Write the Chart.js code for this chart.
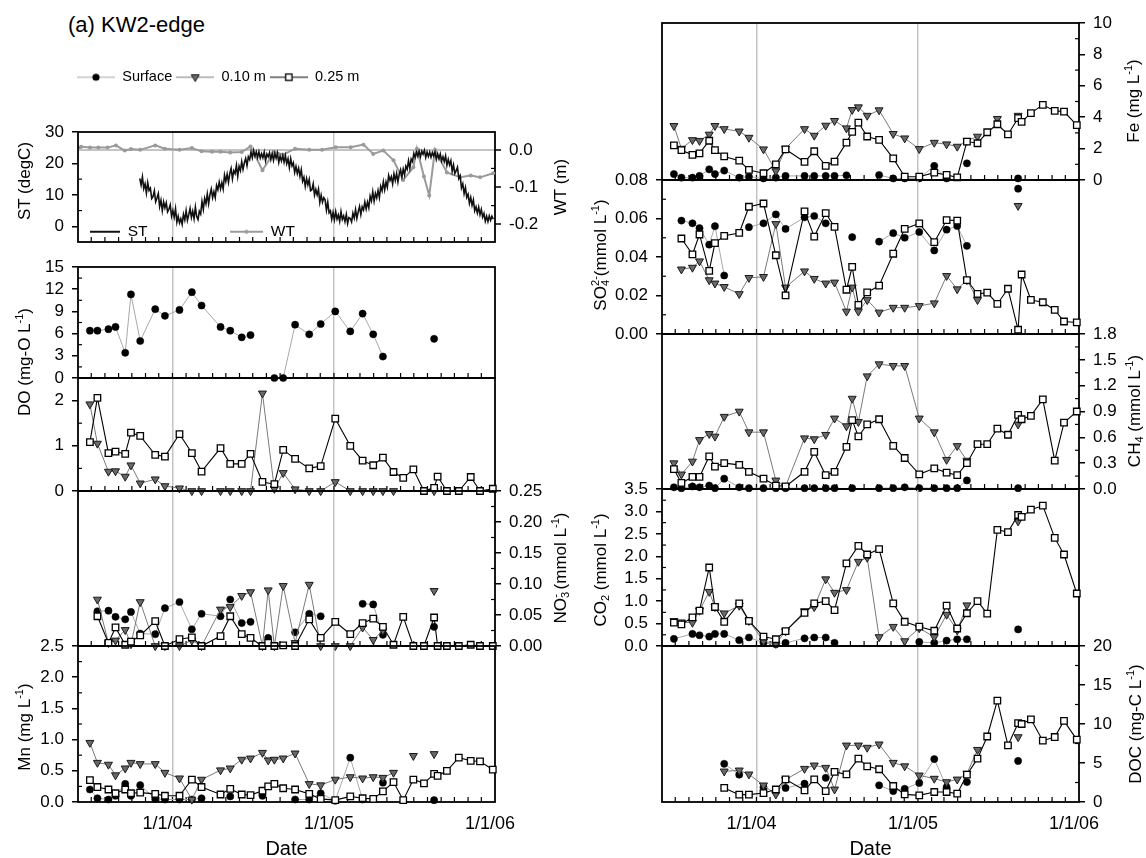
<!DOCTYPE html>
<html><head><meta charset="utf-8">
<script src="https://cdn.jsdelivr.net/npm/chart.js@4.4.1/dist/chart.umd.min.js"></script>
<style>
html,body{margin:0;padding:0;background:#fff;width:1146px;height:858px;overflow:hidden;position:relative;font-family:'Liberation Sans',Arial,sans-serif;color:#000;}
canvas{position:absolute;}
.t{position:absolute;white-space:nowrap;font-size:17px;line-height:1;transform:translate(-50%,-50%) rotate(-90deg);}
.t sup,.t sub{font-size:11px;line-height:0;}
.t sup{vertical-align:7px;}
.t sub{vertical-align:-3px;}
.t .b{margin-left:-6px;}
#ttl{position:absolute;left:68px;top:13px;font-size:22px;line-height:24px;}
</style></head><body>
<div id="ttl">(a) KW2-edge</div>
<script>
const _ = null, NA = undefined;

// ---------- sampling dates (shared by the chemistry series) ----------
const sampleDates = ['2003-06-28','2003-07-15','2003-08-09','2003-08-25','2003-09-16','2003-09-29','2003-10-20','2003-11-23','2003-12-15',
 '2004-01-17','2004-02-14','2004-03-07','2004-04-19','2004-05-11','2004-06-06','2004-06-26','2004-07-23','2004-08-05','2004-08-19','2004-09-08','2004-10-05','2004-11-06','2004-12-02',
 '2005-01-04','2005-02-07','2005-03-07','2005-03-31','2005-04-22','2005-05-16','2005-06-07','2005-06-30','2005-07-24','2005-08-16','2005-08-24','2005-09-14','2005-10-11','2005-11-07','2005-11-28','2005-12-27'];

// ---------- DO ----------
const doSurf = [6.4,6.4,6.6,6.9,3.4,11.3,5.0,9.3,8.4, 9.2,11.6,9.8,6.9,6.4,5.5,5.8,_, NA, 0,0,7.2,5.9,7.3, 9.0,6.3,8.7,5.9,2.9,_,_,_, _,5.3,_,_,_,_,_,_];
const do10 = [1.92,1.05,0.43,0.44,0.32,0.57,0.17,0.26,0.11, 0.06,0,0,0,0,0,0,2.16, NA, 0.05,0.40,0.04,0,0, 0.2,0,0,0,0,0,_,_, _,0,_,_,_,_,_,_];
const do25 = [1.08,2.06,0.84,0.87,0.82,1.29,1.22,0.80,0.76, 1.26,0.84,0.43,0.95,0.60,0.60,0.82,0.20, NA, 0.15,0.91,0.71,0.50,0.55, 1.60,1.00,0.67,0.57,0.74,0.42,0.29,0.48, 0,0.07,0.32,0,0,0.31,0,0.05];
// ---------- NO3 ----------
const no3Surf = [NA,0.056,0.057,0.047,0.043,0.055,0.02,0.019,0.061, 0.071,0.027,0.052,0.048,0.075,0.037,0.039,_, 0.013, _,_,0.022,0.052,0.048, _,_,0.068,0.067,0.018,_,_,_, _,0.031,_,_,_,_,_,_];
const no310 = [NA,0.075,0.005,0.009,0.026,0.003,0.071,0,0, 0,0.009,0,0.059,0.063,0.081,0.087,0, 0.09, 0,0.097,0.005,0.099,0, 0,0,0.03,0.01,0.025,_,_,_, _,0.089,_,_,_,_,_,_];
const no325 = [NA,0.048,0.005,0.03,0.002,0.007,0.017,0.04,0, 0.011,0.014,0,0.016,0.048,0.019,0.013,0, 0.005, 0,0.001,0,0.043,0.013, 0.039,0.019,0.037,0.044,0.031,0.002,0.047,0, 0,0.046,0,0,0,0.002,0,0];
// ---------- Mn ----------
const mnSurf = [0.2,0.06,0.04,0.1,0.29,0.1,0.27,0.05,0.04, 0.04,0.04,0.06,_,0.09,_,_,0.1, NA, _,_,0.04,0.04,0.14, 0.02,0.71,0.04,_,0.31,_,_,_, _,0.03,_,_,_,_,_,_];
const mn10 = [0.95,0.63,0.6,0.43,0.54,0.63,0.61,0.61,0.47, 0.38,0.04,0.36,0.51,0.54,0.68,0.7,0.79, 0.67, 0.68,0.7,0.78,0.29,0.27, 0.36,0.4,0.38,0.4,0.39,0.47,_,0.74, _,0.77,_,_,_,_,_,_];
const mn25 = [0.35,0.24,0.2,0.14,0.2,0.14,0.15,0.13,0.1, 0.1,0.36,0.24,0.12,0.21,0.12,0.11,0.18, 0.25, 0.29,0.22,0.2,0.13,0.05, 0.03,0.09,0.06,0.05,0.17,0.32,0.03,0.36, 0.3,0.45,0.42,0.5,0.71,0.66,0.65,0.52];
// ---------- Fe ----------
const feSurf = [0.38,0.15,0.15,0.26,0.68,0.38,0.6,0.15,0.21, 0.1,0.15,0.26,0.26,0.26,0.26,0.26,0.3, NA, _,_,0.32,0.1,0.1, 0.1,0.9,0.1,_,1.06,_,_,_, _,0.1,_,_,_,_,_,_];
const fe10 = [3.45,2.0,2.55,2.5,2.9,3.45,3.25,3.1,2.7, 1.96,0.57,2.0,3.25,2.83,3.47,3.77,3.3, 4.47, 4.64,4.1,4.45,2.94,2.66, 1.98,2.38,2.28,2.13,2.5,2.77,_,3.9, _,4.1,_,_,_,_,_,_];
const fe25 = [2.2,1.9,1.6,1.7,2.5,1.9,1.5,1.23,0.64, 0.43,1.0,1.95,1.15,1.83,0.9,1.17,2.38, 3.06, 3.66,2.77,2.55,1.38,0.21, 0.21,0.47,0.32,0.17,2.45,2.34,3.04,3.55, 2.9,3.94,3.7,4.26,4.79,4.4,4.36,3.5];
// ---------- SO4 ----------
const so4Surf = [NA,0.0589,0.0575,0.055,0.0464,0.056,0.0304,_,0.0555, 0.0575,0.0621,0.0546,0.0606,0.0613,0.0575,_,_, 0.0503, _,_,0.048,0.0524,0.05, 0.053,0.0434,0.0542,0.0561,0.0458,_,_,_, _,0.0755,_,_,_,_,_,_];
const so410 = [NA,0.0336,0.0345,0.0378,0.028,0.0263,0.0245,0.0208,0.0292, 0.0297,0.0572,0.0242,0.0326,0.0287,0.0263,0.0268,0.0117, 0.0242, 0.0117,0.0177,0.0112,0.0137,0.0137, 0.0146,0.016,0.0302,0.0233,0.028,0.0177,_,_, _,0.0666,_,_,_,_,_,_];
const so425 = [NA,0.0496,0.0414,0.0517,0.0328,0.0472,0.051,0.0525,0.0661, 0.0678,0.0409,0.0201,0.0637,0.0506,0.0628,0.0556,0.023, 0.0349, 0.0151,0.0216,0.0251,0.0417,0.0546, 0.0575,0.0477,0.0592,0.0589,0.028,0.0208,0.0215,0.0156, 0.0235,0.0022,0.0309,0.0177,0.0165,0.0125,0.0065,0.006];
// ---------- CH4 ----------
const ch4Surf = [0.02,0.01,0.03,0.02,0.04,0.01,0.12,0.02,0.01, 0.01,0.01,0.01,0.01,0.01,0.01,0.01,_, 0.01, _,_,0.01,0.01,0.02, 0.01,0.01,0.01,0.01,0.1,_,_,_, _,0.01,_,_,_,_,_,_];
const ch410 = [0.3,0.17,0.32,0.57,0.64,0.61,0.84,0.9,0.66, 0.66,0.1,0.03,0.59,0.58,0.63,0.82,0.73, 1.05, 0.78,1.31,1.45,1.43,1.43, 0.82,0.66,0.34,0.5,0.33,_,_,_, _,0.75,_,_,_,_,_,_];
const ch425 = [0.23,0.07,0.14,0.14,0.38,0.26,0.3,0.28,0.2, 0.12,0.04,0.03,0.2,0.43,0.16,0.2,0.49, 0.8, 0.61,0.75,0.81,0.5,0.36, 0.17,0.24,0.19,0.16,0.3,0.52,0.52,0.7, 0.63,0.86,0.81,0.85,1.04,0.33,0.77,0.9];
// ---------- CO2 ----------
const co2Surf = [0.16,NA,0.27,0.24,0.21,0.27,0.27,0.13,0.19, 0.07,0.04,0.07,0.17,0.19,0.19,0.07,_, NA, _,_,_,_,_, 0.09,0.07,0.12,0.15,0.15,_,_,_, _,0.37,_,_,_,_,_,_];
const co210 = [0.56,0.53,0.52,0.79,1.21,0.87,0.73,0.9,0.56, 0.11,0.05,0.33,0.78,0.87,1.49,1.19,1.25, NA, 1.88,1.97,0.2,0.43,0.11, 0.4,0.2,0.7,0.35,0.91,_,_,_, _,2.78,_,_,_,_,_,_];
const co225 = [0.52,0.48,0.64,0.79,1.75,0.87,0.54,0.95,0.56, 0.21,0.15,0.33,0.74,0.95,1.0,0.8,1.84, NA, 2.23,2.04,2.16,0.95,0.54, 0.43,0.34,0.9,0.39,0.73,1.0,0.72,2.59, 2.54,2.92,2.88,3.04,3.13,2.41,2.04,1.17];
// ---------- DOC ----------
const docSurf = [NA,NA,NA,NA,NA,NA,4.9,3.5,_, 1.9,_,1.8,2.35,_,3.1,_,_, NA, _,_,2.14,1.4,1.7, 2.44,5.5,1.9,_,2.56,_,_,_, _,5.26,_,_,_,_,_,_];
const doc10 = [NA,NA,NA,NA,NA,NA,3.93,4.06,3.55, 2.14,0.98,2.86,4.27,4.7,4.4,1.62,7.26, NA, 7.26,6.97,7.4,5.04,4.6, 3.42,3.0,2.56,2.9,3.63,6.7,_,_, _,8.33,_,_,_,_,_,_];
const doc25 = [NA,NA,NA,NA,NA,NA,1.8,0.94,0.94, 1.15,1.6,2.9,1.5,2.9,1.4,3.85,3.55, NA, 5.56,4.57,4.2,2.05,0.98, 0.85,1.28,1.28,1.07,3.5,5.56,8.4,13.0, 7.26,10.1,10.0,10.6,7.86,8.33,10.4,8.0];

// ---------- water table ----------
const wtDates = ['2003-06-08','2003-06-28','2003-07-17','2003-08-07','2003-08-26','2003-09-15','2003-09-29','2003-10-20','2003-11-23','2003-12-15',
 '2004-01-17','2004-02-14','2004-03-07','2004-03-31','2004-04-19','2004-05-11','2004-06-06','2004-06-26','2004-07-23','2004-08-19','2004-09-08','2004-10-05','2004-11-06','2004-12-05',
 '2005-01-05','2005-02-08','2005-03-09','2005-03-31','2005-04-23','2005-05-16','2005-06-07','2005-06-30','2005-07-08','2005-07-24','2005-08-05','2005-08-18','2005-09-14','2005-10-14','2005-11-07','2005-11-28','2005-12-28'];
const wtVals = [0.008,0.006,0.006,0.006,0.012,-0.002,0.002,0.0,0.012,0.003,
 0.0,0.005,-0.004,-0.005,-0.005,-0.007,-0.006,0.009,-0.055,-0.005,-0.013,0.003,0.0,0.0,
 0.007,0.007,0.014,-0.011,-0.002,-0.028,-0.081,-0.047,0.003,-0.072,-0.123,0.0,-0.061,-0.074,-0.069,-0.074,-0.063];

// ---------- soil temperature (one reading every 3 days from stStart) ----------
const stStart = '2003-10-19', stStepDays = 3;
const stVals = [
 15.2,13.1,15.7,12.0,13.5,10.6,13.9,11.4,12.1,8.8,
 9.4,11.3,7.8,9.0,10.4,6.3,8.3,5.0,7.8,5.9,
 7.5,4.6,5.4,6.8,3.2,5.0,2.9,5.6,1.3,3.2,
 1.1,2.4,0.6,3.8,2.0,5.0,1.9,3.7,5.7,2.8,
 4.8,2.4,6.1,3.1,2.1,4.8,3.9,7.9,5.4,8.9,
 7.2,10.3,7.2,10.1,11.9,9.1,11.0,9.1,13.0,11.6,
 14.1,11.9,13.9,11.9,16.3,14.3,16.6,14.0,16.8,18.4,
 15.1,17.7,16.8,19.4,15.9,19.1,17.7,20.6,18.1,20.2,
 21.6,19.3,22.1,21.2,23.6,21.8,24.1,22.3,23.7,21.9,
 23.7,21.7,23.1,21.8,23.6,20.9,23.0,22.1,23.4,21.2,
 23.1,21.0,23.2,21.7,23.3,20.3,22.3,20.8,22.5,20.4,
 22.5,19.9,21.5,18.7,21.5,19.2,20.2,17.1,19.0,16.8,
 18.5,15.9,18.0,14.3,15.6,12.7,15.2,13.2,14.9,11.3,
 11.6,13.5,9.9,11.7,10.0,11.8,7.6,9.9,7.7,9.1,
 8.4,5.1,7.7,4.3,4.9,2.2,4.4,2.1,4.7,2.3,
 3.6,1.6,4.7,2.2,3.3,1.5,3.8,0.9,2.8,2.5,
 1.4,4.2,2.6,5.3,2.5,4.6,6.3,3.7,6.2,5.2,
 7.7,5.5,7.7,5.9,9.6,8.1,11.0,8.0,10.5,9.0,
 11.4,9.1,12.7,11.3,14.2,11.6,14.1,12.4,16.2,14.6,
 15.8,13.5,16.7,14.6,16.8,14.1,16.6,18.0,15.7,18.2,
 16.4,19.1,18.1,20.9,18.5,21.4,20.6,23.2,21.9,23.6,
 22.3,23.9,22.1,23.9,22.9,24.2,21.9,23.6,22.2,23.6,
 22.0,23.5,22.4,23.6,21.3,23.0,21.5,23.0,20.8,22.1,
 20.6,22.4,19.4,21.3,19.5,20.9,17.5,19.5,16.8,17.7,
 18.8,15.2,16.1,12.2,13.5,10.4,12.3,9.2,10.2,7.3,
 9.2,6.7,8.4,4.9,6.2,4.2,6.1,3.7,5.4,2.9,
 4.1,1.6,3.2,1.5,3.3,1.9,3.2,2.3];

// ---------- axes ----------
const xRange = ['2003-06-01','2006-01-01'];
const xTickDates = ['2004-01-01','2005-01-01','2006-01-01'];
const xTickLabels = ['1/1/04','1/1/05','1/1/06'];
const stTicks = [0,10,20,30], wtTicks = [-0.2,-0.1,0];
const doTicks = [0,3,6,9,12,15], doDeepTicks = [0,1,2];
const no3Ticks = [0,0.05,0.10,0.15,0.20,0.25], mnTicks = [0,0.5,1.0,1.5,2.0,2.5];
const feTicks = [0,2,4,6,8,10], so4Ticks = [0,0.02,0.04,0.06,0.08];
const ch4Ticks = [0,0.3,0.6,0.9,1.2,1.5,1.8], co2Ticks = [0,0.5,1.0,1.5,2.0,2.5,3.0,3.5], docTicks = [0,5,10,15,20];
const legendNames = ['Surface','0.10 m','0.25 m'];

// ---------- helpers ----------
const toDay = s => Date.UTC(+s.slice(0,4), +s.slice(5,7)-1, +s.slice(8,10)) / 864e5;
const xMin = toDay(xRange[0]), xMax = toDay(xRange[1]);
const sDays = sampleDates.map(toDay);
const xTickDays = xTickDates.map(toDay);
const monthDays = [];
for (let y = 2003; y <= 2005; y++) for (let m = 0; m < 12; m++) { const d = Date.UTC(y, m, 1) / 864e5; if (d > xMin && d < xMax) monthDays.push(d); }

Chart.defaults.font.family = "'Liberation Sans', Arial, sans-serif";
Chart.defaults.font.size = 17;
Chart.defaults.color = '#000';

const STY = {
  s: {borderColor:'#a8a8a8', borderWidth:1, pointStyle:'circle', pointRadius:3.6, pointBackgroundColor:'#000', pointBorderColor:'#000', pointBorderWidth:0.5},
  t: {borderColor:'#7a7a7a', borderWidth:1, pointStyle:'triangle', pointRotation:180, pointRadius:4.6, pointBackgroundColor:'#696969', pointBorderColor:'#1a1a1a', pointBorderWidth:1},
  q: {borderColor:'#000', borderWidth:1.1, pointStyle:'rect', pointRadius:4.6, pointBackgroundColor:'#fff', pointBorderColor:'#000', pointBorderWidth:1.3}
};
function ser(arr, kind, label, axis) {
  const data = [];
  arr.forEach((v, i) => { if (v !== undefined) data.push({x: sDays[i], y: v}); });
  return Object.assign({label, data, yAxisID: axis || 'y', spanGaps:false, tension:0, clip:false, pointHoverRadius: STY[kind].pointRadius}, STY[kind]);
}
function trio(s, t, q, axis) { return [ser(q,'q',legendNames[2],axis), ser(t,'t',legendNames[1],axis), ser(s,'s',legendNames[0],axis)]; }

const M = 90, T = 40;
function yAxis(a) {
  return {
    type:'linear', position:a.pos, min:a.min, max:a.max,
    afterBuildTicks: s => { s.ticks = a.ticks.map(v => ({value: v})); },
    afterFit: s => { s.width = M; },
    ticks: {callback: v => Number(v).toFixed(a.dec), padding:8, font:{size:17}, color:'#000', autoSkip:false},
    grid: {
      drawOnChartArea: !!a.zeroLine,
      color: a.zeroLine ? (c => (c.tick && Math.abs(c.tick.value) < 1e-9) ? '#c4c4c4' : 'rgba(0,0,0,0)') : '#000',
      lineWidth: a.zeroLine ? 2 : 1.5, tickColor:'#000', tickLength:6, tickWidth:1.5
    },
    border: {display:false}
  };
}
function xAxis(bottom, B) {
  return {
    type:'linear', min:xMin, max:xMax,
    afterBuildTicks: s => { s.ticks = xTickDays.map(v => ({value: v})); },
    afterFit: s => { s.height = B; },
    ticks: {display: bottom, callback: (v, i) => xTickLabels[i], font:{size:18}, padding:11, maxRotation:0, autoSkip:false, labelOffset:-5, color:'#000'},
    grid: {drawTicks:false, color: c => (c.tick && c.tick.value < xMax - 1) ? '#c4c4c4' : 'rgba(0,0,0,0)', lineWidth:1.5},
    border: {display:false},
    title: {display: bottom, text:'Date', font:{size:20}, padding:{top:0, bottom:3}, color:'#000'}
  };
}
const deco = {
  id:'deco',
  beforeDatasetsDraw(chart) {
    const {ctx, chartArea:a, scales} = chart;
    ctx.save();
    ctx.strokeStyle = '#000'; ctx.lineWidth = 1.2;
    const xs = scales.x;
    monthDays.forEach(d => {
      const px = xs.getPixelForValue(d);
      ctx.beginPath(); ctx.moveTo(px, a.bottom); ctx.lineTo(px, a.bottom - 5); ctx.stroke();
    });
    Object.values(scales).forEach(s => {
      if (s.axis !== 'y') return;
      const tv = s.ticks.map(k => k.value);
      const x0 = s.position === 'left' ? a.left : a.right, dir = s.position === 'left' ? 1 : -1;
      for (let i = 0; i + 1 < tv.length; i++) {
        const py = s.getPixelForValue((tv[i] + tv[i+1]) / 2);
        ctx.beginPath(); ctx.moveTo(x0, py); ctx.lineTo(x0 + dir * 4, py); ctx.stroke();
      }
    });
    ctx.lineWidth = 1.8;
    ctx.strokeRect(a.left, a.top, a.right - a.left, a.bottom - a.top);
    ctx.restore();
  }
};
function panel(p) {
  const B = p.bottom ? 62 : 40;
  const cv = document.createElement('canvas');
  const W = p.w + 2 * M, H = p.h + T + B;
  cv.width = W; cv.height = H;
  cv.style.left = (p.x - M) + 'px'; cv.style.top = (p.y - T) + 'px';
  cv.style.width = W + 'px'; cv.style.height = H + 'px';
  document.body.appendChild(cv);
  const scales = {x: xAxis(!!p.bottom, B)};
  p.axes.forEach(a => { scales[a.id] = yAxis(a); });
  const hasL = p.axes.some(a => a.pos === 'left'), hasR = p.axes.some(a => a.pos === 'right');
  new Chart(cv, {type:'line', data:{datasets:p.datasets}, plugins:[deco], options:{
    responsive:false, animation:false, devicePixelRatio:1, events:[],
    layout:{padding:{left: hasL ? 0 : M, right: hasR ? 0 : M, top: T, bottom: 0}},
    scales, plugins:{legend:{display:false}, tooltip:{enabled:false}}
  }});
}

const LX = 78, RX = 662, PW = 417;
// ST / WT
panel({x:LX, y:132, w:PW, h:110,
  axes:[{id:'y', pos:'left', min:-5, max:30, ticks:stTicks, dec:0}, {id:'y2', pos:'right', min:-0.248, max:0.048, ticks:wtTicks, dec:1, zeroLine:true}],
  datasets:[
    {label:'ST', data: stVals.map((v, i) => ({x: toDay(stStart) + i * stStepDays, y: v})), yAxisID:'y', borderColor:'#111', borderWidth:1.6, pointRadius:0, tension:0, clip:false},
    {label:'WT', data: wtVals.map((v, i) => ({x: toDay(wtDates[i]), y: v})), yAxisID:'y2', borderColor:'#9a9a9a', borderWidth:2, pointRadius:2, pointBackgroundColor:'#9a9a9a', pointBorderWidth:0, tension:0, clip:false}
  ]});
panel({x:LX, y:267, w:PW, h:111, axes:[{id:'y', pos:'left', min:0, max:15, ticks:doTicks, dec:0}], datasets:[ser(doSurf,'s','Surface')]});
panel({x:LX, y:378, w:PW, h:113, axes:[{id:'y', pos:'left', min:0, max:2.5, ticks:doDeepTicks, dec:0}], datasets:[ser(do25,'q','0.25 m'), ser(do10,'t','0.10 m')]});
panel({x:LX, y:491, w:PW, h:155, axes:[{id:'y', pos:'right', min:0, max:0.25, ticks:no3Ticks, dec:2}], datasets:trio(no3Surf, no310, no325)});
panel({x:LX, y:646, w:PW, h:156, bottom:true, axes:[{id:'y', pos:'left', min:0, max:2.5, ticks:mnTicks, dec:1}], datasets:trio(mnSurf, mn10, mn25)});
panel({x:RX, y:23, w:PW, h:157, axes:[{id:'y', pos:'right', min:0, max:10, ticks:feTicks, dec:0}], datasets:trio(feSurf, fe10, fe25)});
panel({x:RX, y:180, w:PW, h:154, axes:[{id:'y', pos:'left', min:0, max:0.08, ticks:so4Ticks, dec:2}], datasets:trio(so4Surf, so410, so425)});
panel({x:RX, y:334, w:PW, h:155, axes:[{id:'y', pos:'right', min:0, max:1.8, ticks:ch4Ticks, dec:1}], datasets:trio(ch4Surf, ch410, ch425)});
panel({x:RX, y:489, w:PW, h:157, axes:[{id:'y', pos:'left', min:0, max:3.5, ticks:co2Ticks, dec:1}], datasets:trio(co2Surf, co210, co225)});
panel({x:RX, y:646, w:PW, h:156, bottom:true, axes:[{id:'y', pos:'right', min:0, max:20, ticks:docTicks, dec:0}], datasets:trio(docSurf, doc10, doc25)});

// ---------- legends (Chart.js legend with line+marker icons) ----------
function mkIcon(w, h, lineColor, lineW, marker) {
  const c = document.createElement('canvas'); c.width = w; c.height = h;
  const g = c.getContext('2d'); const cx = w / 2, cy = h / 2;
  g.strokeStyle = lineColor; g.lineWidth = lineW;
  g.beginPath(); g.moveTo(0, cy); g.lineTo(w, cy); g.stroke();
  if (marker === 'circle') { g.fillStyle = '#000'; g.beginPath(); g.arc(cx, cy, 3.6, 0, Math.PI * 2); g.fill(); }
  if (marker === 'tri') { g.fillStyle = '#696969'; g.strokeStyle = '#1a1a1a'; g.lineWidth = 1; g.beginPath(); g.moveTo(cx - 4, cy - 2.5); g.lineTo(cx + 4, cy - 2.5); g.lineTo(cx, cy + 4.3); g.closePath(); g.fill(); g.stroke(); }
  if (marker === 'sq') { g.fillStyle = '#fff'; g.strokeStyle = '#000'; g.lineWidth = 1.3; g.fillRect(cx - 3.2, cy - 3.2, 6.4, 6.4); g.strokeRect(cx - 3.2, cy - 3.2, 6.4, 6.4); }
  if (marker === 'dot') { g.fillStyle = lineColor; g.beginPath(); g.arc(cx, cy, 2, 0, Math.PI * 2); g.fill(); }
  return c;
}
function legendChart(left, top, width, items, fontSize, boxW, pad) {
  const cv = document.createElement('canvas');
  const H = Math.round(fontSize * 2 + pad * 2 + 8);
  cv.width = width; cv.height = H;
  cv.style.left = left + 'px'; cv.style.top = top + 'px'; cv.style.width = width + 'px'; cv.style.height = H + 'px';
  document.body.appendChild(cv);
  new Chart(cv, {type:'line', data:{datasets: items.map(it => ({label: it.text, data: []}))}, options:{
    responsive:false, animation:false, devicePixelRatio:1, events:[], layout:{padding:0},
    scales:{x:{display:false}, y:{display:false}},
    plugins:{tooltip:{enabled:false}, legend:{display:true, position:'top', align:'start',
      labels:{usePointStyle:true, pointStyleWidth:boxW, boxHeight:fontSize, padding:pad, font:{size:fontSize}, color:'#000',
        generateLabels: () => items.map((it, i) => ({text: it.text, pointStyle: it.icon, fillStyle:'#000', strokeStyle:'#000', lineWidth:0, hidden:false, datasetIndex:i, fontColor:'#000'}))}}}
  }});
}
legendChart(73, 66, 420, [
  {text: legendNames[0], icon: mkIcon(38, 12, '#a8a8a8', 1.2, 'circle')},
  {text: legendNames[1], icon: mkIcon(38, 12, '#7a7a7a', 1.2, 'tri')},
  {text: legendNames[2], icon: mkIcon(38, 12, '#000', 1.2, 'sq')}
], 14.5, 38, 4);
legendChart(90, 224, 90, [{text:'ST', icon: mkIcon(30, 10, '#111', 2, null)}], 15.5, 30, 0);
legendChart(230, 224, 90, [{text:'WT', icon: mkIcon(33, 10, '#9a9a9a', 2, 'dot')}], 15.5, 33, 0);

// ---------- axis titles ----------
const axisTitles = [
  {x:24, y:181, html:'ST (degC)'},
  {x:560, y:187, html:'WT (m)'},
  {x:24, y:362, html:'DO (mg-O L<sup>-1</sup>)'},
  {x:560, y:568, html:'NO<sub>3</sub><sup class="b">-</sup> (mmol L<sup>-1</sup>)'},
  {x:24, y:727, html:'Mn (mg L<sup>-1</sup>)'},
  {x:1133, y:101, html:'Fe (mg L<sup>-1</sup>)'},
  {x:600, y:255, html:'SO<sub>4</sub><sup class="b">2-</sup>(mmol L<sup>-1</sup>)'},
  {x:1134, y:411, html:'CH<sub>4</sub> (mmol L<sup>-1</sup>)'},
  {x:600, y:570, html:'CO<sub>2</sub> (mmol L<sup>-1</sup>)'},
  {x:1135, y:724, html:'DOC (mg-C L<sup>-1</sup>)'}
];
axisTitles.forEach(t => {
  const d = document.createElement('div'); d.className = 't'; d.innerHTML = t.html;
  d.style.left = t.x + 'px'; d.style.top = t.y + 'px'; document.body.appendChild(d);
});
</script>
</body></html>
